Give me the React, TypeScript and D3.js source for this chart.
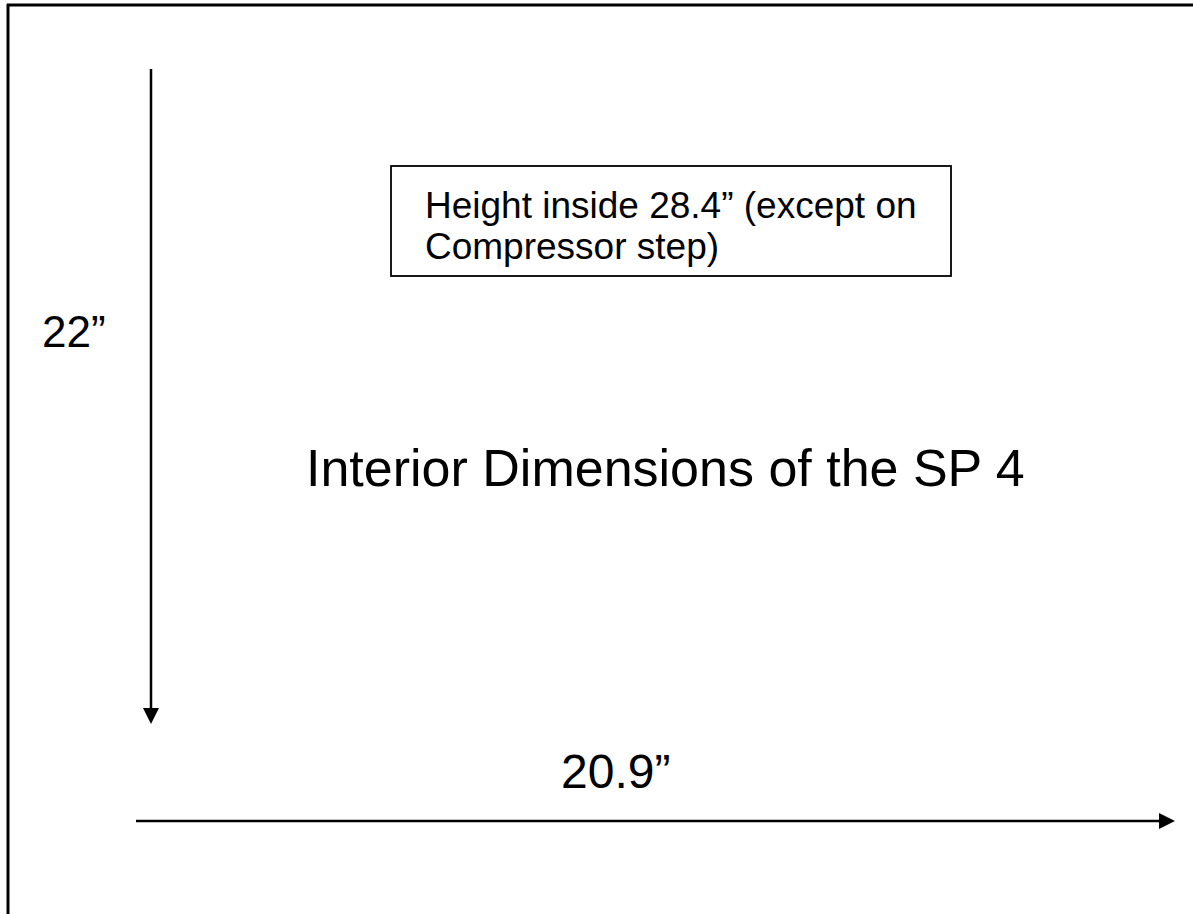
import React from 'react';
import * as d3 from 'd3';

// Dimensions shown on the drawing (inches)
const depthInches = 22;
const widthInches = 20.9;
const depthLabel = '22”';
const widthLabel = '20.9”';
const noteLines = ['Height inside 28.4” (except on', 'Compressor step)'];
const title = 'Interior Dimensions of the SP 4';

const W = 1193;
const H = 914;
const FONT = "'Liberation Sans', Arial, Helvetica, sans-serif";

const App = () => {
  // scales mapping inches to page pixels along each arrow
  const yScale = d3.scaleLinear().domain([0, depthInches]).range([69, 724]);
  const xScale = d3.scaleLinear().domain([0, widthInches]).range([136, 1175]);

  const arrowX = 151;
  const arrowY = 821;
  const head = 16;

  const downHead = d3.line()([
    [arrowX - head / 2, yScale(depthInches) - head],
    [arrowX + head / 2, yScale(depthInches) - head],
    [arrowX, yScale(depthInches)],
  ]) + 'Z';

  const rightHead = d3.line()([
    [xScale(widthInches) - head, arrowY - head / 2],
    [xScale(widthInches) - head, arrowY + head / 2],
    [xScale(widthInches), arrowY],
  ]) + 'Z';

  return (
    <svg
      width={W}
      height={H}
      style={{ position: 'absolute', left: 0, top: 0, background: '#fff' }}
      fontFamily={FONT}
    >
      <rect x={0} y={0} width={W} height={H} fill="#fff" />

      {/* page frame */}
      <line x1={7} x2={W} y1={5} y2={5} stroke="#000" strokeWidth={3} />
      <line x1={8} x2={8} y1={4} y2={H} stroke="#000" strokeWidth={3} />

      {/* depth arrow */}
      <line
        x1={arrowX}
        x2={arrowX}
        y1={yScale(0)}
        y2={yScale(depthInches) - head}
        stroke="#000"
        strokeWidth={2.5}
      />
      <path d={downHead} fill="#000" />
      <text x={42} y={347} fontSize={44} fill="#000">
        {depthLabel}
      </text>

      {/* width arrow */}
      <line
        x1={xScale(0)}
        x2={xScale(widthInches) - head}
        y1={arrowY}
        y2={arrowY}
        stroke="#000"
        strokeWidth={2.5}
      />
      <path d={rightHead} fill="#000" />
      <text x={561} y={788} fontSize={48} fill="#000">
        {widthLabel}
      </text>

      {/* note box */}
      <rect x={391} y={166} width={560} height={110} fill="none" stroke="#000" strokeWidth={1.8} />
      {noteLines.map((t, i) => (
        <text key={i} x={425} y={218 + i * 41} fontSize={37} fill="#000">
          {t}
        </text>
      ))}

      {/* title */}
      <text x={306} y={486} fontSize={52} fill="#000">
        {title}
      </text>
    </svg>
  );
};

export default App;
